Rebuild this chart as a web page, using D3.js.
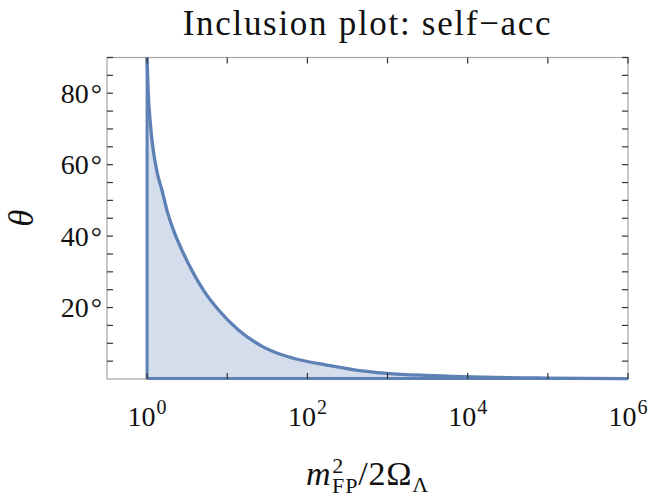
<!DOCTYPE html>
<html>
<head>
<meta charset="utf-8">
<script src="https://cdn.jsdelivr.net/npm/d3@7"></script>
<style>
  body { margin: 0; background: #fff; }
  text { font-family: 'Liberation Serif', 'DejaVu Serif', serif; fill: #111; }
</style>
</head>
<body>
<svg id="chart" width="650" height="498"></svg>
<script>
// Values
var ratioValues = [1, 1.03, 1.1, 1.33, 1.54, 1.77, 2.14, 2.73, 3.63, 5.07, 7.8, 13.8, 28, 40, 67, 174, 400, 980, 3000, 8700, 100000, 1000000];
var thetaValues = [90, 81, 71.5, 58, 52.7, 47.2, 41.6, 36, 30.4, 24.8, 19.3, 13.7, 9.0, 7.4, 5.8, 3.9, 2.5, 1.6, 1.0, 0.64, 0.25, 0.1];
var xTickExponents = [0, 1, 2, 3, 4, 5, 6];
var xLabelExponents = [0, 2, 4, 6];
var yTickValues = [5, 10, 15, 20, 25, 30, 35, 40, 45, 50, 55, 60, 65, 70, 75, 80, 85, 90];
var yLabelValues = [20, 40, 60, 80];

var TITLE = 'Inclusion plot: self\u2212acc',
    LINE_COLOR = '#5e81b5',
    FRAME_COLOR = '#a3a3a3',
    TICK_COLOR = '#333',
    TICK_LENGTH = 6;

var margin = { left: 107, right: 22, top: 57.5, bottom: 119 },
    width = 650,
    height = 498;

var svg = d3.select('#chart');

var x = d3.scaleLog()
    .domain([Math.pow(10, -0.5), 1e6])
    .range([margin.left, width - margin.right]);

var y = d3.scaleLinear()
    .domain([0, 90])
    .range([height - margin.bottom, margin.top]);

var x0 = x.range()[0], x1 = x.range()[1],
    y0 = y.range()[0], y1 = y.range()[1];

// Region: from the vertical line at ratio 1 along the curve and back on the floor
var points = ratioValues.map(function(d, i) { return [d, thetaValues[i]]; });

var area = d3.area()
    .x(function(d) { return x(d[0]); })
    .y0(y(0))
    .y1(function(d) { return y(d[1]); })
    .curve(d3.curveMonotoneX);

var line = d3.line()
    .x(function(d) { return x(d[0]); })
    .y(function(d) { return y(d[1]); })
    .curve(d3.curveMonotoneX);

svg.append('path')
    .attr('d', area(points))
    .attr('fill', LINE_COLOR)
    .attr('fill-opacity', 0.27);

// Frame
svg.append('rect')
    .attr('x', x0).attr('y', y1)
    .attr('width', x1 - x0).attr('height', y0 - y1)
    .attr('fill', 'none')
    .attr('stroke', FRAME_COLOR)
    .attr('stroke-width', 1.2);

// Floor and vertical edge of the region
svg.append('line')
    .attr('x1', x(1)).attr('x2', x(1e6))
    .attr('y1', y(0) - 0.5).attr('y2', y(0) - 0.5)
    .attr('stroke', LINE_COLOR)
    .attr('stroke-width', 3);

svg.append('line')
    .attr('x1', x(1)).attr('x2', x(1))
    .attr('y1', y(0)).attr('y2', y(90))
    .attr('stroke', LINE_COLOR)
    .attr('stroke-width', 3);

svg.append('path')
    .attr('d', line(points))
    .attr('fill', 'none')
    .attr('stroke', LINE_COLOR)
    .attr('stroke-width', 3.3);

// Ticks on all four sides, pointing inwards
var ticks = svg.append('g')
    .attr('stroke', TICK_COLOR)
    .attr('stroke-width', 1.2);

xTickExponents.forEach(function(e) {
    var px = x(Math.pow(10, e));
    ticks.append('line').attr('x1', px).attr('x2', px).attr('y1', y0).attr('y2', y0 - TICK_LENGTH);
    ticks.append('line').attr('x1', px).attr('x2', px).attr('y1', y1).attr('y2', y1 + TICK_LENGTH);
});

yTickValues.forEach(function(v) {
    var py = y(v);
    ticks.append('line').attr('x1', x0).attr('x2', x0 + TICK_LENGTH).attr('y1', py).attr('y2', py);
    ticks.append('line').attr('x1', x1).attr('x2', x1 - TICK_LENGTH).attr('y1', py).attr('y2', py);
});

// Tick labels
var xLabels = svg.append('g')
    .selectAll('text')
    .data(xLabelExponents)
    .enter()
    .append('text')
    .attr('x', function(d) { return x(Math.pow(10, d)); })
    .attr('y', 426)
    .attr('text-anchor', 'middle')
    .attr('font-size', 28);

xLabels.append('tspan').text('10');
xLabels.append('tspan')
    .attr('dx', 1)
    .attr('dy', -12)
    .attr('font-size', 20)
    .text(function(d) { return d; });

var yLabels = svg.append('g')
    .selectAll('text')
    .data(yLabelValues)
    .enter()
    .append('text')
    .attr('x', 102)
    .attr('y', function(d) { return y(d); })
    .attr('dy', '0.34em')
    .attr('text-anchor', 'end')
    .attr('font-size', 28);

yLabels.append('tspan').text(function(d) { return d; });
yLabels.append('tspan').attr('dx', 2).text('\u00b0');

// Title and axis labels
svg.append('text')
    .attr('x', (x0 + x1) / 2)
    .attr('y', 35)
    .attr('text-anchor', 'middle')
    .attr('font-size', 35)
    .attr('letter-spacing', 1.7)
    .text(TITLE);

svg.append('text')
    .attr('transform', 'translate(33,' + ((y0 + y1) / 2) + ') rotate(-90)')
    .attr('text-anchor', 'middle')
    .attr('font-size', 35)
    .attr('font-style', 'italic')
    .text('\u03b8');

var xTitle = svg.append('text')
    .attr('x', (x0 + x1) / 2)
    .attr('y', 485)
    .attr('text-anchor', 'middle')
    .attr('font-size', 34)
    .attr('letter-spacing', 0.8);

xTitle.append('tspan').attr('font-style', 'italic').text('m');
xTitle.append('tspan').attr('font-size', 22).attr('dx', 1).attr('dy', -12).text('2');
xTitle.append('tspan').attr('font-size', 22).attr('dx', -12).attr('dy', 20).text('FP');
xTitle.append('tspan').attr('dy', -8).text('/2\u03a9');
xTitle.append('tspan').attr('font-size', 22).attr('dy', 7).text('\u039b');
</script>
</body>
</html>
